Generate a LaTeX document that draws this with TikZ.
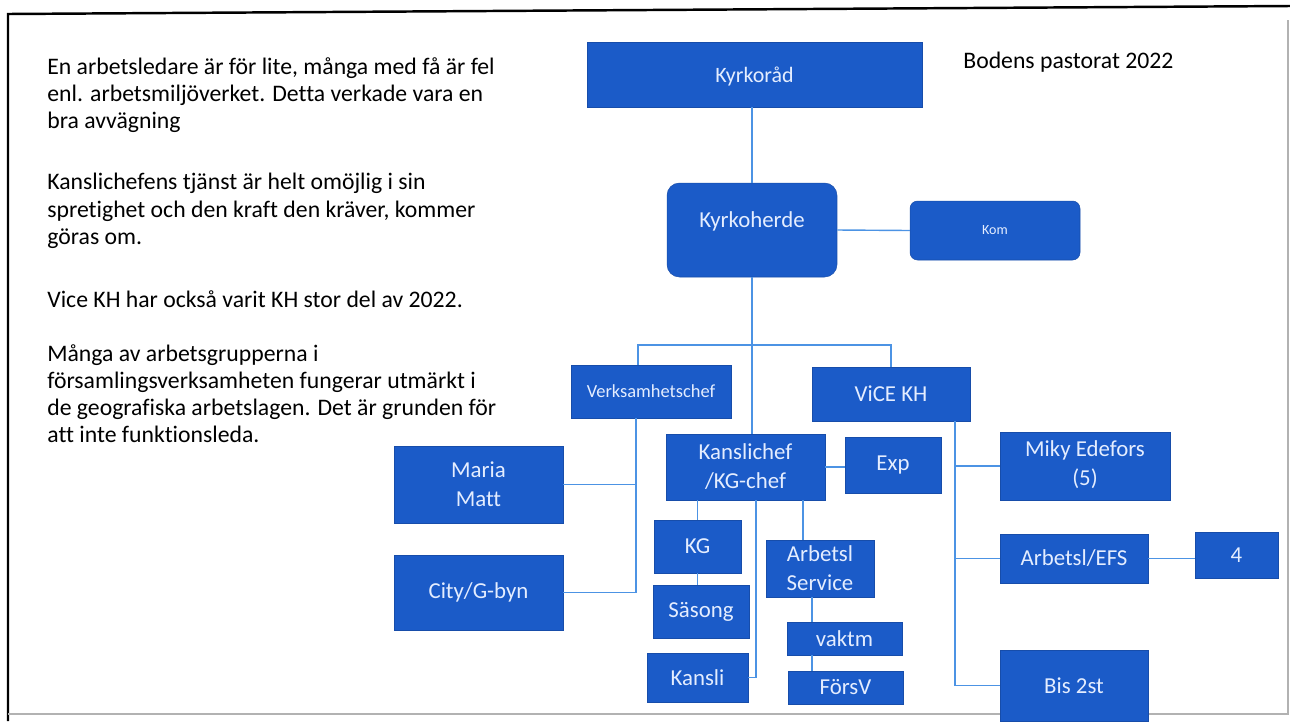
\documentclass[tikz,border=0pt]{standalone}
\usepackage{fontspec}
\setmainfont{Carlito}[Ligatures=NoCommon]
\usepackage{xcolor}
\usepackage{tikz}
\usetikzlibrary{positioning}
\definecolor{orgblue}{HTML}{1B5BC8}
\definecolor{orgtext}{HTML}{E4EDFF}
\definecolor{orgline}{HTML}{4C93E4}

\begin{document}
\begin{tikzpicture}[
    x=0.02cm, y=-0.02cm,
    box/.style={rectangle, fill=orgblue, draw=orgblue!85!black, line width=0.3pt, text=orgtext, align=center, inner sep=1pt, font=\fontsize{13}{16.5}\selectfont},
    roundbox/.style={box, rounded corners=0.25cm},
    link/.style={draw=orgline, line width=0.8pt},
    note/.style={anchor=north west, inner sep=0pt, align=left, font=\fontsize{13.5}{15.5}\selectfont}
]
\useasboundingbox (0,0) rectangle (1290,721);
% frame
\draw[line width=1.4pt] (8,721) -- (8,14) -- (1290,6);
\draw[black!30, line width=0.6pt] (8,714) -- (1288,714) -- (1288,20);

% notes
\node[note] (n1) at (47,57) {En arbetsledare är för lite, många med få är fel\\enl. arbetsmiljöverket. Detta verkade vara en\\bra avvägning};
\node[note] (n2) at (47,173) {Kanslichefens tjänst är helt omöjlig i sin\\spretighet och den kraft den kräver, kommer\\göras om.};
\node[note] (n3) at (47,290) {Vice KH har också varit KH stor del av 2022.};
\node[note] (n4) at (47,344) {Många av arbetsgrupperna i\\församlingsverksamheten fungerar utmärkt i\\de geografiska arbetslagen. Det är grunden för\\att inte funktionsleda.};
\node[note] (title) at (963,52) {Bodens pastorat 2022};

% boxes
\node[box, minimum width=6.70cm, minimum height=1.30cm, font=\fontsize{12.5}{15}\selectfont, text depth=0pt] (kyrkorad) at (754.5,74.5) {Kyrkoråd};
\node[roundbox, minimum width=3.40cm, minimum height=1.88cm, text depth=0.4cm] (kyrkoherde) at (752,230) {Kyrkoherde};
\node[roundbox, rounded corners=0.15cm, minimum width=3.40cm, minimum height=1.18cm, font=\fontsize{8}{9}\selectfont] (kom) at (995,230.5) {Kom};
\node[box, minimum width=3.20cm, minimum height=1.06cm, font=\fontsize{10.5}{12}\selectfont] (verks) at (651,391.5) {Verksamhetschef};
\node[box, minimum width=3.16cm, minimum height=1.08cm] (vicekh) at (891,394) {ViCE KH};
\node[box, minimum width=3.18cm, minimum height=1.32cm] (kanslichef) at (745.5,467) {Kanslichef\\/KG-chef};
\node[box, minimum width=1.92cm, minimum height=1.12cm] (exp) at (893,465) {Exp};
\node[box, minimum width=3.38cm, minimum height=1.54cm] (maria) at (478.5,484.5) {Maria\\Matt};
\node[box, minimum width=3.38cm, minimum height=1.50cm] (city) at (478.5,592.5) {City/G-byn};
\node[box, minimum width=1.74cm, minimum height=1.06cm] (kg) at (697.5,546.5) {KG};
\node[box, minimum width=1.92cm, minimum height=1.06cm] (sasong) at (701,611.5) {Säsong};
\node[box, minimum width=2.02cm, minimum height=0.98cm] (kansli) at (697.5,677.5) {Kansli};
\node[box, minimum width=2.16cm, minimum height=1.14cm] (arbserv) at (820,568.5) {Arbetsl\\Service};
\node[box, minimum width=2.30cm, minimum height=0.66cm] (vaktm) at (844.5,638.5) {vaktm};
\node[box, minimum width=2.30cm, minimum height=0.66cm] (forsv) at (845.5,687.5) {FörsV};
\node[box, minimum width=3.40cm, minimum height=1.36cm, text depth=0.1cm] (miky) at (1085,466) {Miky Edefors\\(5)};
\node[box, minimum width=2.96cm, minimum height=0.98cm] (efs) at (1074,558.5) {Arbetsl/EFS};
\node[box, minimum width=1.66cm, minimum height=0.92cm] (four) at (1236.5,555) {4};
\node[box, minimum width=2.96cm, minimum height=1.42cm] (bis) at (1074,685.5) {Bis 2st};

% connectors
\coordinate (barL) at (638,345);
\coordinate (vl) at (636,0);
\coordinate (vr) at (955,0);
\coordinate (kl) at (756,0);
\coordinate (ka) at (803,0);
\coordinate (ks) at (812,0);
\draw[link] (kyrkorad.south -| kyrkoherde.north) -- (kyrkoherde.north);
\draw[link] (kyrkoherde.east) -- (kom.west);
\draw[link] (kyrkoherde.south) -- (kyrkoherde.south |- kanslichef.north);
\draw[link] (vicekh.north) |- (barL) -- (barL |- verks.north);
\draw[link] (vl |- verks.south) |- (city.east);
\draw[link] (maria.east) -- (vl |- maria.east);
\draw[link] (vr |- vicekh.south) |- (bis.west);
\draw[link] (miky.west) -- (vr |- miky.west);
\draw[link] (efs.west) -- (vr |- efs.west);
\draw[link] (kanslichef.east) -- (kanslichef.east -| exp.west);
\draw[link] (kg.north |- kanslichef.south) -- (kg.north);
\draw[link] (kg.south) -- (kg.south |- sasong.north);
\draw[link] (kl |- kanslichef.south) |- (kansli.east);
\draw[link] (ka |- kanslichef.south) -- (ka |- arbserv.north);
\draw[link] (ks |- arbserv.south) -- (ks |- vaktm.north);
\draw[link] (ks |- vaktm.south) -- (ks |- forsv.north);
\draw[link] (efs.east) -- (efs.east -| four.west);
\end{tikzpicture}
\end{document}
